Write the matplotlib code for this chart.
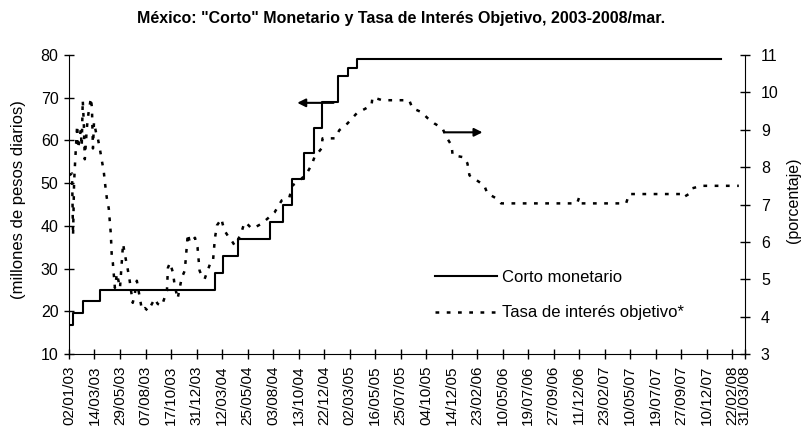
import matplotlib
matplotlib.use("Agg")
import matplotlib.pyplot as plt
import numpy as np

plt.rcParams['font.family'] = ['Liberation Sans', 'DejaVu Sans']

# etiquetas del eje x (una cada 50 dias habiles, mas la ultima)
fechas = ["02/01/03", "14/03/03", "29/05/03", "07/08/03", "17/10/03", "31/12/03",
          "12/03/04", "25/05/04", "03/08/04", "13/10/04", "22/12/04", "02/03/05",
          "16/05/05", "25/07/05", "04/10/05", "14/12/05", "23/02/06", "10/05/06",
          "19/07/06", "27/09/06", "11/12/06", "23/02/07", "10/05/07", "19/07/07",
          "27/09/07", "10/12/07", "22/02/08", "31/03/08"]
ultimo_dia = 1325

# corto monetario: dia habil en que empieza cada nivel (millones de pesos diarios)
corto_inicio = [0, 7, 27, 61, 286, 301, 331, 395, 419, 438, 460, 481, 495, 527, 546, 565]
corto_valor = [16.8, 19.5, 22.3, 25, 29, 33, 37, 41, 45, 51, 57, 63, 69, 75, 77, 79]
corto_fin = 1278

# tasa de interes objetivo (porcentaje)
tasa_dia = [0, 6, 8, 10, 12, 16, 18, 23, 25, 27, 29, 31, 35, 37, 39, 43, 45, 47, 49,
            53, 57, 61, 65, 68, 70, 74, 78, 80, 82, 84, 86, 88, 90, 94, 100, 106, 110,
            115, 119, 125, 129, 133, 143, 149, 155, 168, 174, 182, 192, 194, 198, 204,
            207, 213, 221, 227, 229, 233, 237, 247, 252, 254, 256, 262, 266, 270, 276,
            282, 284, 286, 290, 294, 299, 301, 305, 311, 319, 325, 329, 339, 344, 350,
            358, 366, 378, 389, 403, 417, 432, 438, 452, 466, 476, 481, 495, 497, 521,
            530, 546, 564, 583, 593, 595, 614, 667, 673, 691, 703, 716, 732, 740, 750,
            752, 775, 781, 785, 800, 814, 820, 838, 847, 996, 1000, 1004, 1092, 1098,
            1200, 1204, 1215, 1221, 1239, 1313]
tasa_valor = [7.78, 7.83, 6.17, 7.59, 8.13, 9.12, 8.50, 8.99, 8.56, 9.79, 9.20, 8.21,
              9.04, 9.31, 9.52, 9.85, 9.58, 8.50, 9.20, 8.93, 8.74, 8.45, 8.13, 7.91,
              7.64, 7.19, 6.89, 6.57, 6.22, 5.58, 5.44, 5.12, 4.77, 5.15, 4.77, 5.95,
              5.63, 5.28, 4.96, 4.37, 4.61, 4.96, 4.18, 4.23, 4.15, 4.48, 4.34, 4.29,
              4.69, 5.31, 5.44, 5.17, 4.85, 4.48, 5.04, 5.23, 5.55, 6.22, 5.98, 6.11,
              5.85, 5.55, 5.23, 5.04, 5.01, 5.17, 5.39, 5.44, 5.77, 6.09, 6.44, 6.52,
              6.62, 6.49, 6.30, 6.17, 6.03, 5.90, 5.98, 6.30, 6.52, 6.47, 6.36, 6.40,
              6.49, 6.62, 6.79, 7.11, 7.19, 7.51, 7.64, 7.83, 8.07, 8.26, 8.50, 8.77,
              8.77, 8.99, 9.17, 9.44, 9.58, 9.66, 9.87, 9.79, 9.79, 9.58, 9.47, 9.31,
              9.17, 9.04, 8.80, 8.58, 8.32, 8.26, 8.10, 7.78, 7.64, 7.51, 7.30, 7.16,
              7.03, 7.03, 7.19, 7.03, 7.03, 7.28, 7.28, 7.19, 7.28, 7.43, 7.50, 7.50]

fig = plt.figure(figsize=(8.03, 4.30), dpi=100)
ax = fig.add_axes([0.0859, 0.1767, 0.8418, 0.6954])
ax2 = ax.twinx()

x_corto = corto_inicio + [corto_fin]
y_corto = corto_valor + [corto_valor[-1]]
l1, = ax.step(x_corto, y_corto, where='post', color='black', lw=1.5,
              label='Corto monetario')
l2, = ax2.plot(tasa_dia, tasa_valor, color='black', lw=1.8,
               linestyle=(0, (1.5, 3.0)), label='Tasa de interés objetivo*')

ax.set_xlim(0, ultimo_dia)
ax.set_ylim(10, 80)
ax2.set_ylim(3, 11)
ax.set_yticks(np.arange(10, 81, 10))
ax2.set_yticks(np.arange(3, 12, 1))
ticks_x = list(range(0, 1301, 50)) + [ultimo_dia]
ax.set_xticks(ticks_x)
ax.set_xticklabels(fechas, rotation=90)

ax.tick_params(axis='x', direction='inout', length=7, width=1, labelsize=11, pad=5)
ax.tick_params(axis='y', direction='inout', length=7, width=1, labelsize=11.5, pad=4)
ax2.tick_params(axis='y', direction='inout', length=7, width=1, labelsize=11.5, pad=8)

for a in (ax, ax2):
    a.spines['top'].set_visible(False)
ax.spines['right'].set_visible(False)
ax2.spines['left'].set_visible(False)
ax2.spines['bottom'].set_visible(False)

ax.set_ylabel('(millones de pesos diarios)', fontsize=12)
ax.yaxis.set_label_coords(-0.063, 0.515)
ax2.set_ylabel('(porcentaje)', fontsize=11.5)
ax2.yaxis.set_label_coords(1.061, 0.515)

# flechas que indican el eje de cada serie
ax.annotate('', xy=(442, 68.8), xytext=(524, 68.8),
            arrowprops=dict(arrowstyle='-|>', color='black', lw=1.5, mutation_scale=12))
ax.annotate('', xy=(816, 61.9), xytext=(730, 61.9),
            arrowprops=dict(arrowstyle='-|>', color='black', lw=1.5, mutation_scale=12))

ax2.legend(handles=[l1, l2], loc='upper left', bbox_to_anchor=(0.5417, 0.373),
           bbox_transform=fig.transFigure, frameon=False, fontsize=12,
           handlelength=3.7, handletextpad=0.3, labelspacing=1.25,
           borderpad=0, borderaxespad=0)

fig.text(0.5, 1 - 18 / 430, 'México: "Corto" Monetario y Tasa de Interés Objetivo, 2003-2008/mar.',
         ha='center', va='center', fontsize=11.5, fontweight='bold')

fig.savefig("out.png", dpi=100)
